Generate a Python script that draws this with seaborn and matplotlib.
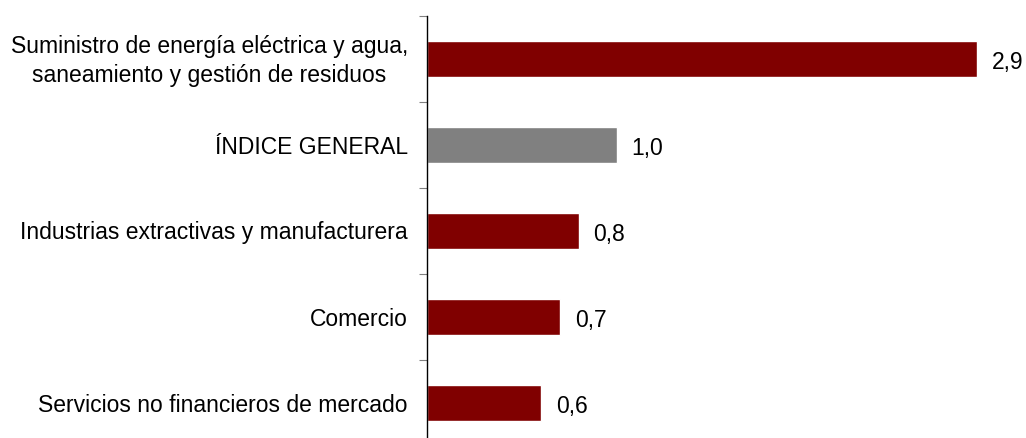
import matplotlib
matplotlib.use("Agg")
import matplotlib.pyplot as plt
import matplotlib.transforms as mtransforms
import seaborn as sns
import pandas as pd

categories = [
    "Suministro de energía eléctrica y agua,\nsaneamiento y gestión de residuos",
    "ÍNDICE GENERAL",
    "Industrias extractivas y manufacturera",
    "Comercio",
    "Servicios no financieros de mercado",
]
values = [2.9, 1.0, 0.8, 0.7, 0.6]
labels = ["2,9", "1,0", "0,8", "0,7", "0,6"]
colors = ["#800000", "#808080", "#800000", "#800000", "#800000"]

sns.set_style("white")
plt.rcParams["font.family"] = ["Liberation Sans", "DejaVu Sans"]

df = pd.DataFrame({"cat": categories, "val": values})

fig = plt.figure(figsize=(10.26, 4.39), dpi=100)
W, H = 1026, 439
left, right = 427, 1026
top, bottom = 17, 447
ax = fig.add_axes([left / W, (H - bottom) / H, (right - left) / W, (bottom - top) / H])

sns.barplot(data=df, y="cat", x="val", hue="cat", palette=colors, orient="h",
            width=0.41, legend=False, ax=ax, saturation=1)

ax.set_xlim(0, (right - left) / 189.5)
ax.set_ylim(len(categories) - 0.5, -0.5)
ax.set_xlabel("")
ax.set_ylabel("")
ax.set_xticks([])
ax.set_yticks([i - 0.5 for i in range(len(categories) + 1)])
ax.set_yticklabels([])
ax.tick_params(axis="y", which="major", length=6, width=0.8, color="#808080", direction="out", left=True)

for s in ["top", "right", "bottom"]:
    ax.spines[s].set_visible(False)
ax.spines["left"].set_color("black")
ax.spines["left"].set_linewidth(1.0)

fs = 16.5
trans = mtransforms.blended_transform_factory(ax.transAxes, ax.transData)
for i, cat in enumerate(categories):
    ax.annotate(cat, xy=(0, i), xycoords=trans, xytext=(-19, -1), textcoords="offset pixels",
                ha="right", va="center", multialignment="center", fontsize=fs,
                linespacing=1.35, color="black", annotation_clip=False)

for i, (v, lab) in enumerate(zip(values, labels)):
    ax.annotate(lab, xy=(v, i), xytext=(15, -2), textcoords="offset pixels",
                va="center", ha="left", fontsize=fs, color="black")

fig.savefig("out.png", dpi=100)
